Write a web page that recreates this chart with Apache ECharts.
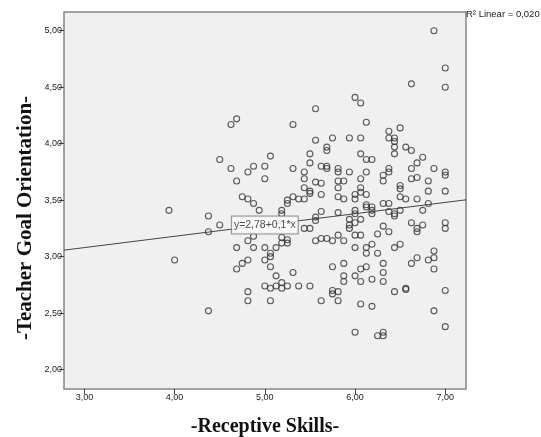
<!DOCTYPE html>
<html>
<head>
<meta charset="utf-8">
<script src="https://cdn.jsdelivr.net/npm/echarts@6/dist/echarts.min.js"></script>
<style>
  html, body { margin: 0; padding: 0; background: #ffffff; }
  #chart { width: 541px; height: 437px; }
</style>
</head>
<body>
<div id="chart"></div>
<script>
// Receptive skills score (x) for each respondent
const receptiveSkills = [
  3.9375, 4.0, 4.375, 4.375, 4.375, 4.5, 4.5, 4.625, 4.6875, 4.625,
  4.6875, 4.6875, 4.6875, 4.75, 4.8125, 4.875, 4.9375, 4.8125, 4.875, 5.0,
  5.0, 5.0625, 5.25, 5.25, 5.3125, 5.375, 5.4375, 5.3125, 5.3125, 5.1875,
  5.1875, 5.4375, 5.4375, 5.4375, 5.5, 5.5, 5.5, 5.5, 5.5625, 5.5625,
  5.5625, 5.625, 5.625, 5.625, 5.6875, 5.6875, 5.6875, 5.6875, 5.75, 5.8125,
  5.8125, 5.8125, 5.8125, 5.8125, 5.875, 5.875, 5.9375, 5.9375, 6.0, 6.0625,
  6.0625, 6.0625, 6.0625, 6.0625, 6.0625, 6.0, 6.0, 6.125, 6.125, 6.1875,
  6.125, 6.125, 6.3125, 6.3125, 6.375, 6.375, 6.4375, 6.4375, 6.4375, 6.4375,
  6.5, 6.375, 6.375, 6.5, 6.5, 6.5625, 6.625, 6.625, 6.875, 7.0,
  7.0, 6.75, 6.6875, 6.625, 6.875, 7.0, 7.0, 6.625, 6.6875, 6.8125,
  6.8125, 7.0, 6.5, 6.5625, 6.6875, 6.8125,
  4.875, 4.8125, 4.875, 5.0, 5.0625, 5.0625, 5.125, 4.8125, 4.75, 5.0,
  5.0625, 5.3125, 5.125, 5.0, 5.0625, 5.125, 5.1875, 5.1875, 5.25, 5.375,
  5.5, 4.8125, 4.8125, 5.0625, 5.1875, 5.1875, 5.25, 5.25, 5.4375, 5.5,
  5.5625, 5.5625, 5.625, 5.8125, 5.9375, 5.9375, 5.9375, 6.0, 6.0625, 6.0,
  6.0, 6.125, 6.125, 6.1875, 6.1875, 6.1875, 6.3125, 6.375, 6.375, 6.4375,
  6.4375, 6.5, 5.5625, 5.625, 5.6875, 5.75, 5.8125, 5.875, 6.0, 6.0625,
  6.0, 6.125, 6.125, 6.1875, 6.25, 6.3125, 6.375, 6.4375, 6.25, 5.75,
  5.875, 5.875, 5.875, 6.0625, 6.125, 6.0, 6.0625, 6.1875, 6.3125, 6.3125,
  6.3125, 5.75, 5.75, 5.8125, 5.625, 5.8125, 6.0625, 6.1875, 6.4375, 6.0,
  6.25, 6.3125, 6.3125, 6.75, 6.625, 6.6875, 6.6875, 6.75, 7.0, 7.0,
  6.5, 6.875, 6.875, 6.8125, 6.6875, 6.625, 6.875, 6.5625, 6.5625, 7.0,
  6.875, 7.0
];

// Teacher goal orientation score (y), same order as above
const goalOrientation = [
  3.41, 2.97, 3.36, 3.22, 2.52, 3.28, 3.86, 4.17, 4.22, 3.78,
  3.67, 3.08, 2.89, 3.53, 3.51, 3.47, 3.41, 3.75, 3.80, 3.80,
  3.69, 3.89, 3.50, 3.47, 3.53, 3.51, 3.51, 3.78, 4.17, 3.41,
  3.38, 3.75, 3.69, 3.61, 3.91, 3.83, 3.58, 3.56, 4.31, 4.03,
  3.66, 3.80, 3.65, 3.55, 3.97, 3.94, 3.80, 3.78, 4.05, 3.78,
  3.75, 3.67, 3.61, 3.53, 3.67, 3.51, 4.05, 3.75, 4.41, 4.36,
  4.05, 3.91, 3.69, 3.61, 3.57, 3.55, 3.51, 4.19, 3.86, 3.86,
  3.75, 3.55, 3.72, 3.67, 4.11, 4.05, 4.05, 4.02, 3.97, 3.91,
  4.14, 3.78, 3.75, 3.63, 3.60, 3.97, 3.94, 4.53, 5.00, 4.67,
  4.50, 3.88, 3.83, 3.78, 3.78, 3.75, 3.72, 3.69, 3.70, 3.67,
  3.58, 3.58, 3.53, 3.51, 3.51, 3.47,
  3.18, 3.14, 3.08, 3.08, 3.03, 3.00, 3.08, 2.97, 2.94, 2.97,
  2.91, 2.86, 2.83, 2.74, 2.72, 2.74, 2.77, 2.72, 2.74, 2.74,
  2.74, 2.69, 2.61, 2.61, 3.17, 3.12, 3.12, 3.15, 3.25, 3.25,
  3.35, 3.32, 3.40, 3.39, 3.33, 3.28, 3.25, 3.30, 3.33, 3.41,
  3.38, 3.46, 3.44, 3.44, 3.41, 3.38, 3.47, 3.47, 3.40, 3.38,
  3.36, 3.41, 3.14, 3.16, 3.16, 3.14, 3.19, 3.14, 3.19, 3.19,
  3.08, 3.08, 3.03, 3.11, 3.20, 3.27, 3.22, 3.08, 3.03, 2.91,
  2.94, 2.83, 2.78, 2.89, 2.91, 2.83, 2.78, 2.80, 2.94, 2.86,
  2.78, 2.70, 2.67, 2.69, 2.61, 2.61, 2.58, 2.56, 2.69, 2.33,
  2.30, 2.33, 2.30, 3.41, 3.30, 3.25, 3.22, 3.28, 3.30, 3.25,
  3.11, 3.05, 2.99, 2.97, 2.99, 2.94, 2.89, 2.72, 2.71, 2.70,
  2.52, 2.38
];

// Axis ticks and their labels (decimal comma)
const xTicks = [3, 4, 5, 6, 7];
const xTickLabels = ['3,00', '4,00', '5,00', '6,00', '7,00'];
const yTicks = [2, 2.5, 3, 3.5, 4, 4.5, 5];
const yTickLabels = ['2,00', '2,50', '3,00', '3,50', '4,00', '4,50', '5,00'];

// Axis ranges of the plot frame
const xRange = [2.774, 7.23];
const yRange = [1.828, 5.166];

// Linear fit
const fitIntercept = 2.78;
const fitSlope = 0.1;
const fitLabel = 'y=2,78+0,1*x';
const fitLabelAtX = 5.0;
const rSquaredText = 'R² Linear = 0,020';

const points = receptiveSkills.map((x, i) => [x, goalOrientation[i]]);
const fitAt = x => fitIntercept + fitSlope * x;
const fitLine = [[xRange[0], fitAt(xRange[0])], [xRange[1], fitAt(xRange[1])]];

const labelFor = (ticks, labels) => v => {
  const i = ticks.findIndex(t => Math.abs(t - v) < 1e-6);
  return i >= 0 ? labels[i] : '';
};

const sansFont = 'Liberation Sans, Arial, sans-serif';
const tickFont = { fontFamily: sansFont, fontSize: 9, color: '#222' };
const titleFont = { fontFamily: 'Liberation Serif, Times New Roman, serif', fontWeight: 'bold' };

const chart = echarts.init(document.getElementById('chart'), null, { renderer: 'canvas' });

chart.setOption({
  backgroundColor: '#ffffff',
  animation: false,
  grid: {
    left: 64, right: 75, top: 12, bottom: 48,
    show: true,
    backgroundColor: '#f0f0f0',
    borderColor: '#858585',
    borderWidth: 1.5
  },
  xAxis: {
    type: 'value',
    min: xRange[0],
    max: xRange[1],
    splitLine: { show: false },
    axisLine: { show: false },
    axisTick: { show: true, customValues: xTicks, length: 5, lineStyle: { color: '#444', width: 1 } },
    axisLabel: Object.assign({ customValues: xTicks, margin: 4, formatter: labelFor(xTicks, xTickLabels) }, tickFont)
  },
  yAxis: {
    type: 'value',
    min: yRange[0],
    max: yRange[1],
    splitLine: { show: false },
    axisLine: { show: false },
    axisTick: { show: true, customValues: yTicks, length: 5, lineStyle: { color: '#444', width: 1 } },
    axisLabel: Object.assign({ customValues: yTicks, margin: 2, formatter: labelFor(yTicks, yTickLabels) }, tickFont)
  },
  series: [
    {
      type: 'scatter',
      data: points,
      symbol: 'circle',
      symbolSize: 6,
      itemStyle: { color: 'rgba(0,0,0,0)', borderColor: '#333', borderWidth: 1.1 },
      z: 3
    },
    {
      type: 'line',
      data: fitLine,
      symbol: 'none',
      lineStyle: { color: '#444', width: 1 },
      z: 4
    },
    {
      type: 'scatter',
      data: [[fitLabelAtX, fitAt(fitLabelAtX)]],
      symbolSize: 0,
      z: 5,
      label: {
        show: true,
        position: 'inside',
        formatter: fitLabel,
        fontFamily: sansFont,
        fontSize: 10.5,
        lineHeight: 13,
        color: '#222',
        backgroundColor: '#ffffff',
        borderColor: '#777',
        borderWidth: 1,
        padding: [2, 2, 2, 2]
      }
    }
  ],
  graphic: [
    {
      type: 'text',
      x: 466, y: 9,
      style: { text: rSquaredText, fontFamily: sansFont, fontSize: 9.5, fill: '#222' }
    },
    {
      type: 'text',
      x: 265, y: 427,
      style: Object.assign({ text: '-Receptive Skills-', fontSize: 20, textAlign: 'center', textVerticalAlign: 'middle', fill: '#111' }, titleFont)
    },
    {
      type: 'text',
      x: 26, y: 218,
      rotation: Math.PI / 2,
      style: Object.assign({ text: '-Teacher Goal Orientation-', fontSize: 21, textAlign: 'center', textVerticalAlign: 'middle', fill: '#111' }, titleFont)
    }
  ]
});
</script>
</body>
</html>
